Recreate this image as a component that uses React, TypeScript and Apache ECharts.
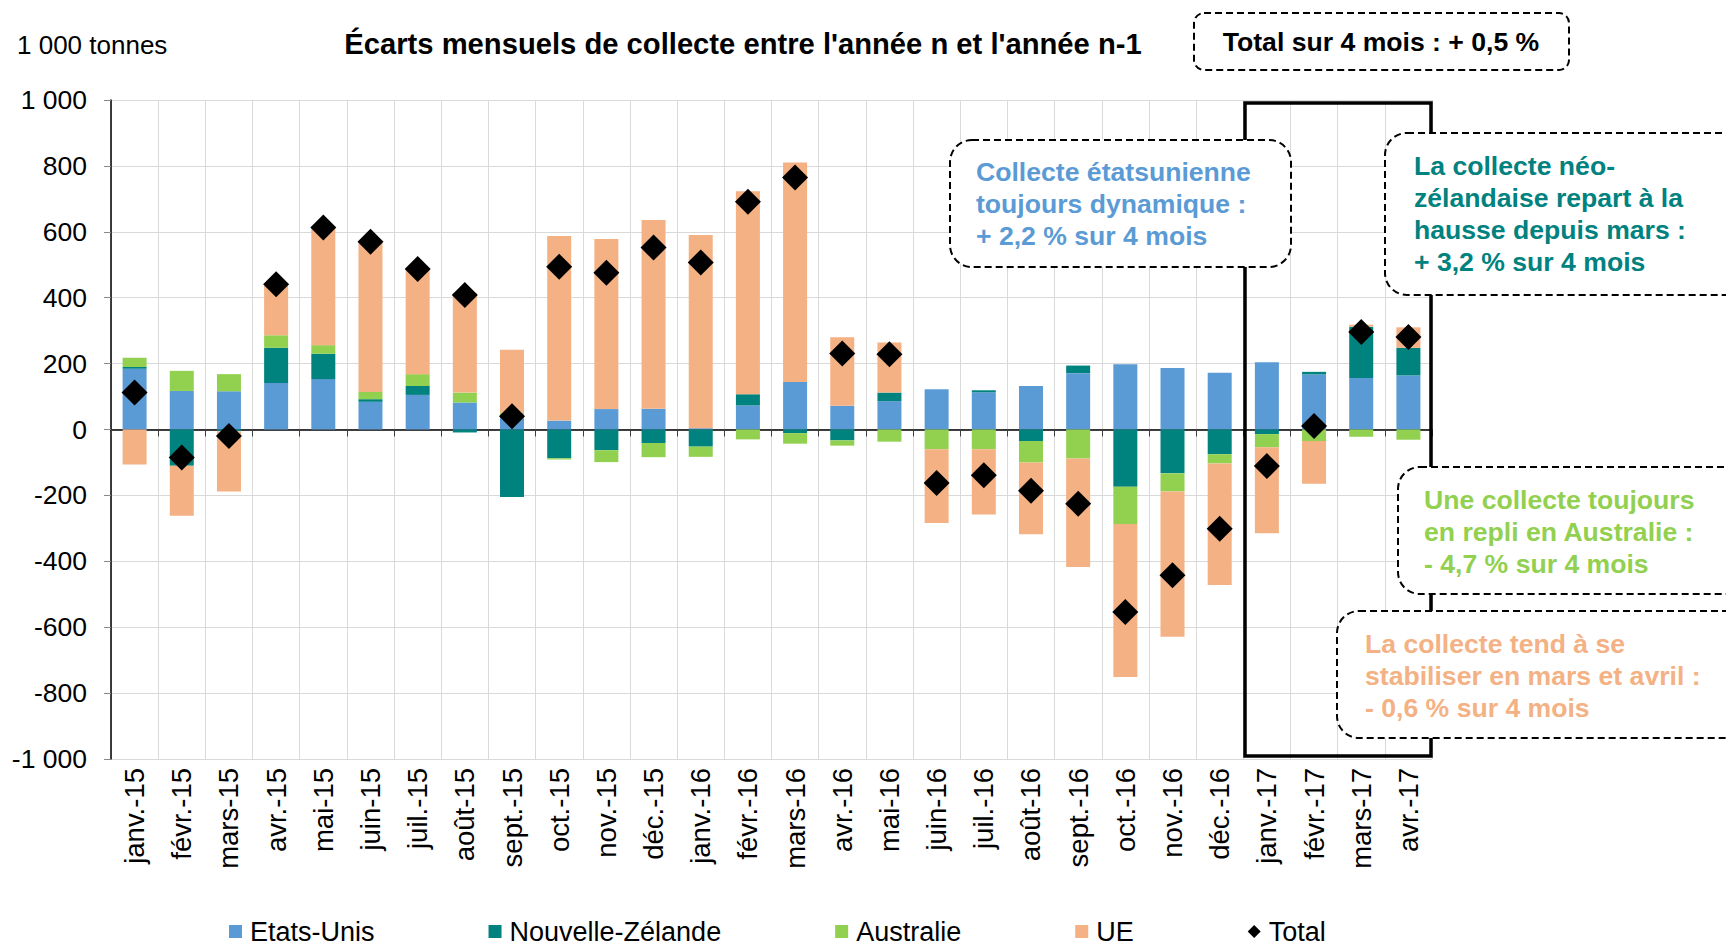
import React, { useEffect, useRef } from 'react';
import * as echarts from 'echarts';

const categories = [
  'janv.-15', 'févr.-15', 'mars-15', 'avr.-15', 'mai-15', 'juin-15', 'juil.-15', 'août-15',
  'sept.-15', 'oct.-15', 'nov.-15', 'déc.-15', 'janv.-16', 'févr.-16', 'mars-16', 'avr.-16',
  'mai-16', 'juin-16', 'juil.-16', 'août-16', 'sept.-16', 'oct.-16', 'nov.-16', 'déc.-16',
  'janv.-17', 'févr.-17', 'mars-17', 'avr.-17',
];

const etatsUnis = [184, 117, 116, 141, 153, 84, 105, 82, 43, 27, 62, 63, 4, 73, 144, 72, 86, 122, 113, 132, 171, 198, 187, 172, 204, 167, 156, 164];
const nouvelleZelande = [6, -110, -5, 107, 77, 8, 27, -9, -205, -87, -63, -41, -52, 34, -11, -33, 26, 0, 6, -35, 23, -174, -133, -75, -14, 8, 156, 84];
const australie = [28, 61, 52, 38, 26, 22, 36, 30, 8, -4, -36, -43, -31, -30, -32, -16, -37, -60, -60, -65, -88, -113, -55, -28, -40, -35, -22, -31];
const ue = [-106, -152, -183, 152, 354, 452, 315, 303, 191, 560, 516, 573, 586, 616, 666, 208, 152, -224, -198, -218, -329, -464, -441, -369, -261, -130, 6, 62];
const total = [112, -85, -20, 441, 613, 570, 487, 408, 40, 494, 476, 552, 507, 691, 765, 231, 228, -162, -139, -186, -225, -554, -442, -301, -111, 11, 296, 281];

const seriesNames = ['Etats-Unis', 'Nouvelle-Zélande', 'Australie', 'UE', 'Total'];
const colors = ['#5B9BD5', '#00827F', '#92D050', '#F4B183', '#000000'];

const titleText = "Écarts mensuels de collecte entre l'année n et l'année n-1";
const unitText = '1 000 tonnes';
const totalNote = 'Total sur 4 mois : + 0,5 %';
const usNote = ['Collecte étatsunienne', 'toujours dynamique :', '+ 2,2 % sur 4 mois'];
const nzNote = ['La collecte néo-', 'zélandaise repart à la', 'hausse depuis mars :', '+ 3,2 % sur 4 mois'];
const auNote = ['Une collecte toujours', 'en repli en Australie :', '- 4,7 % sur 4 mois'];
const ueNote = ['La collecte tend à se', 'stabiliser en mars et avril :', '- 0,6 % sur 4 mois'];

const FONT = '"Liberation Sans", Arial, Helvetica, sans-serif';
const NOTE_FONT = `bold 26.6px ${FONT}`;

function fmt(v: number): string {
  const s = String(Math.abs(v)).replace(/\B(?=(\d{3})+(?!\d))/g, ' ');
  return (v < 0 ? '-' : '') + s;
}

function noteBox(x: number, y: number, w: number, h: number, r: number, lines: string[], color: string, tx: number, ty0: number, lh: number) {
  const els: any[] = [
    {
      type: 'rect',
      z: 100,
      shape: { x, y, width: w, height: h, r },
      style: { fill: '#ffffff', stroke: '#000000', lineWidth: 2, lineDash: [7, 4] },
    },
  ];
  lines.forEach((t, i) => {
    els.push({
      type: 'text',
      z: 101,
      x: tx,
      y: ty0 + i * lh,
      style: {
        text: t,
        font: NOTE_FONT,
        fill: color,
        align: 'left',
        verticalAlign: 'middle',
        textAlign: 'left',
        textVerticalAlign: 'middle',
      },
    });
  });
  return els;
}

export default function App() {
  const ref = useRef<HTMLDivElement>(null);

  useEffect(() => {
    if (!ref.current) return;
    const chart = echarts.init(ref.current, undefined, { renderer: 'svg' });

    const barSeries = [etatsUnis, nouvelleZelande, australie, ue].map((d, i) => ({
      name: seriesNames[i],
      type: 'bar',
      stack: 'collecte',
      data: d,
      barWidth: 24,
      itemStyle: { color: colors[i] },
      z: 2,
    }));

    const graphics: any[] = [
      {
        type: 'rect',
        z: 50,
        shape: { x: 1245, y: 103, width: 186, height: 653 },
        style: { fill: 'none', stroke: '#000000', lineWidth: 3.5 },
      },
      {
        type: 'text',
        z: 101,
        x: 743,
        y: 44,
        style: {
          text: titleText,
          font: `bold 29.2px ${FONT}`,
          fill: '#000',
          align: 'center',
          verticalAlign: 'middle',
          textAlign: 'center',
          textVerticalAlign: 'middle',
        },
      },
      {
        type: 'text',
        z: 101,
        x: 17,
        y: 45,
        style: {
          text: unitText,
          font: `26px ${FONT}`,
          fill: '#000',
          align: 'left',
          verticalAlign: 'middle',
          textAlign: 'left',
          textVerticalAlign: 'middle',
        },
      },
      {
        type: 'rect',
        z: 100,
        shape: { x: 1194, y: 13, width: 375, height: 57, r: 10 },
        style: { fill: '#ffffff', stroke: '#000000', lineWidth: 2, lineDash: [7, 4] },
      },
      {
        type: 'text',
        z: 101,
        x: 1381,
        y: 42,
        style: {
          text: totalNote,
          font: NOTE_FONT,
          fill: '#000',
          align: 'center',
          verticalAlign: 'middle',
          textAlign: 'center',
          textVerticalAlign: 'middle',
        },
      },
      ...noteBox(950, 140, 341, 127, 22, usNote, '#5B9BD5', 976, 172, 32),
      ...noteBox(1385, 133, 370, 162, 22, nzNote, '#00827F', 1414, 166, 32),
      ...noteBox(1398, 467, 350, 127, 22, auNote, '#92D050', 1424, 500, 32),
      ...noteBox(1337, 611, 410, 127, 22, ueNote, '#F4B183', 1365, 644, 32),
    ];

    chart.setOption({
      animation: false,
      backgroundColor: '#ffffff',
      textStyle: { fontFamily: FONT },
      grid: { left: 111, top: 100, width: 1321, height: 659, containLabel: false },
      legend: {
        left: 229,
        top: 918,
        padding: 0,
        itemWidth: 13,
        itemHeight: 13,
        itemGap: 114,
        textStyle: { fontSize: 27, color: '#000', fontFamily: FONT, padding: [0, 0, 0, 3] },
        data: [
          { name: seriesNames[0], icon: 'rect' },
          { name: seriesNames[1], icon: 'rect' },
          { name: seriesNames[2], icon: 'rect' },
          { name: seriesNames[3], icon: 'rect' },
          { name: seriesNames[4], icon: 'diamond' },
        ],
      },
      xAxis: [
        {
          type: 'category',
          data: categories,
          position: 'bottom',
          axisLine: { show: false, onZero: false },
          axisTick: { show: false },
          axisLabel: { rotate: 90, interval: 0, margin: 9, fontSize: 27.5, color: '#000', fontFamily: FONT },
          splitLine: { show: true, interval: 0, lineStyle: { color: '#D9D9D9', width: 1 } },
        },
        {
          type: 'category',
          data: categories,
          position: 'bottom',
          axisLine: { show: true, onZero: true, lineStyle: { color: '#000', width: 1.5 } },
          axisTick: { show: true, interval: 0, length: 7, lineStyle: { color: '#404040' } },
          axisLabel: { show: false },
          splitLine: { show: false },
        },
      ],
      yAxis: {
        type: 'value',
        min: -1000,
        max: 1000,
        interval: 200,
        axisLine: { show: true, lineStyle: { color: '#000', width: 1.5 } },
        axisTick: { show: true, length: 7, lineStyle: { color: '#888' } },
        axisLabel: { fontSize: 26.5, color: '#000', margin: 24, formatter: (v: number) => fmt(v), fontFamily: FONT },
        splitLine: { show: true, lineStyle: { color: '#D9D9D9', width: 1 } },
      },
      series: [
        ...barSeries,
        {
          name: seriesNames[4],
          type: 'scatter',
          data: total,
          symbol: 'diamond',
          symbolSize: 26,
          itemStyle: { color: colors[4], opacity: 1 },
          z: 10,
        },
      ],
      graphic: graphics,
    });

    return () => {
      chart.dispose();
    };
  }, []);

  return (
    <div
      ref={ref}
      style={{ position: 'fixed', left: 0, top: 0, width: 1726, height: 945, background: '#fff' }}
    />
  );
}
